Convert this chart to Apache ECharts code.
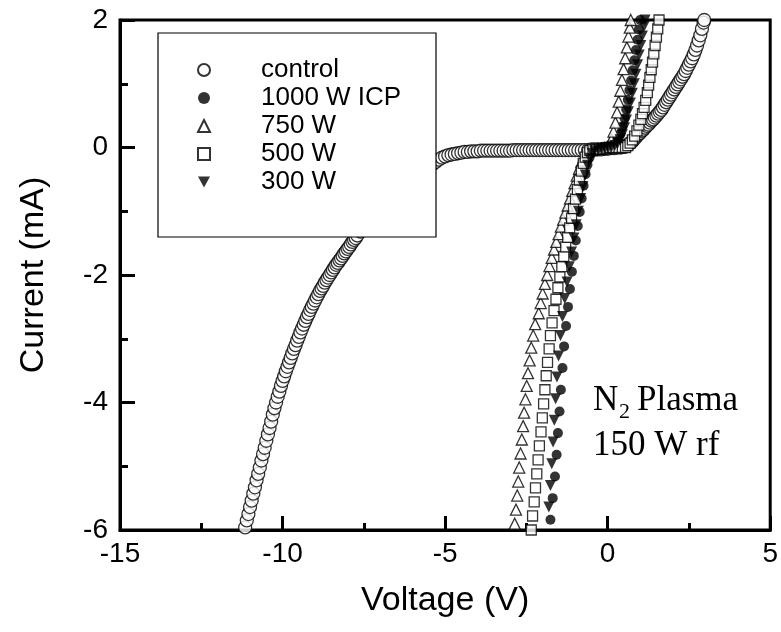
<!DOCTYPE html>
<html><head><meta charset="utf-8">
<script src="https://cdn.jsdelivr.net/npm/echarts@6/dist/echarts.min.js"></script>
<style>html,body{margin:0;padding:0;background:#fff}#c{width:781px;height:632px}</style>
</head><body><div id="c"></div>
<script>
const seriesNames = ['control', '1000 W ICP', '750 W', '500 W', '300 W'];
const xRange = [-15, 5, 5];
const yRange = [-6, 2, 2];

const control = [
[-11.20,-6.06],[-11.15,-5.96],[-11.10,-5.85],[-11.05,-5.75],[-11.00,-5.64],[-10.95,-5.54],[-10.90,-5.43],[-10.85,-5.33],[-10.80,-5.22],[-10.75,-5.12],
[-10.70,-5.02],[-10.65,-4.91],[-10.60,-4.81],[-10.55,-4.71],[-10.50,-4.60],[-10.45,-4.50],[-10.40,-4.40],[-10.35,-4.30],[-10.30,-4.19],[-10.25,-4.09],
[-10.20,-4.00],[-10.15,-3.91],[-10.10,-3.83],[-10.05,-3.74],[-10.00,-3.66],[-9.95,-3.59],[-9.90,-3.51],[-9.85,-3.44],[-9.80,-3.37],[-9.75,-3.30],
[-9.70,-3.23],[-9.65,-3.16],[-9.60,-3.10],[-9.55,-3.03],[-9.50,-2.97],[-9.45,-2.90],[-9.40,-2.84],[-9.35,-2.78],[-9.30,-2.72],[-9.25,-2.66],[-9.20,-2.61],[-9.15,-2.55],
[-9.10,-2.50],[-9.05,-2.45],[-9.00,-2.40],[-8.95,-2.35],[-8.90,-2.30],[-8.85,-2.25],[-8.80,-2.21],[-8.75,-2.17],[-8.70,-2.12],[-8.65,-2.08],[-8.60,-2.04],[-8.55,-2.00],[-8.50,-1.96],[-8.45,-1.92],[-8.40,-1.88],
[-8.35,-1.84],[-8.30,-1.81],[-8.25,-1.77],[-8.20,-1.74],[-8.15,-1.70],[-8.10,-1.66],[-8.05,-1.63],[-8.00,-1.59],[-7.95,-1.56],[-7.90,-1.52],[-7.85,-1.48],[-7.80,-1.45],[-7.75,-1.42],[-7.70,-1.38],
[-7.6,-1.32],[-7.5,-1.26],[-7.4,-1.20],[-7.3,-1.14],[-7.2,-1.08],[-7.1,-1.02],[-7.0,-0.97],[-6.9,-0.92],[-6.8,-0.87],[-6.7,-0.82],[-6.6,-0.77],[-6.5,-0.72],[-6.4,-0.68],[-6.3,-0.63],[-6.2,-0.59],[-6.1,-0.55],[-6.0,-0.51],[-5.9,-0.47],[-5.8,-0.43],[-5.7,-0.39],[-5.6,-0.35],[-5.5,-0.31],[-5.4,-0.27],[-5.3,-0.23],
[-5.2,-0.19],[-5.1,-0.16],[-5.0,-0.14],[-4.9,-0.12],[-4.8,-0.11],[-4.7,-0.10],[-4.6,-0.09],[-4.5,-0.08],[-4.4,-0.07],[-4.3,-0.07],[-4.2,-0.06],[-4.1,-0.06],[-4.0,-0.06],[-3.9,-0.05],[-3.8,-0.05],[-3.7,-0.05],[-3.6,-0.05],[-3.5,-0.05],[-3.4,-0.05],[-3.3,-0.05],[-3.2,-0.05],[-3.1,-0.05],[-3.0,-0.05],
[-2.9,-0.04],[-2.8,-0.04],[-2.7,-0.04],[-2.6,-0.04],[-2.5,-0.04],[-2.4,-0.04],[-2.3,-0.04],[-2.2,-0.04],[-2.1,-0.04],[-2.0,-0.04],[-1.9,-0.04],[-1.8,-0.04],[-1.7,-0.04],[-1.6,-0.04],[-1.5,-0.04],[-1.4,-0.04],[-1.3,-0.04],[-1.2,-0.04],[-1.1,-0.04],[-1.0,-0.04],
[-0.9,-0.04],[-0.8,-0.04],[-0.7,-0.04],[-0.6,-0.04],[-0.5,-0.03],[-0.4,-0.03],[-0.3,-0.03],[-0.2,-0.03],[-0.1,-0.02],[0.0,-0.02],[0.1,-0.01],[0.2,-0.01],[0.3,0.00],[0.4,0.00],
[0.50,0.01],[0.55,0.02],[0.60,0.03],[0.65,0.05],[0.70,0.07],[0.75,0.09],[0.80,0.12],[0.85,0.15],[0.90,0.18],[0.95,0.21],[1.00,0.23],[1.05,0.26],[1.10,0.28],[1.15,0.31],[1.20,0.34],[1.25,0.36],[1.30,0.39],[1.35,0.42],[1.40,0.44],[1.45,0.47],
[1.50,0.50],[1.55,0.53],[1.60,0.56],[1.65,0.59],[1.70,0.63],[1.75,0.67],[1.80,0.71],[1.85,0.75],[1.90,0.79],[1.95,0.83],[2.00,0.87],[2.05,0.91],[2.10,0.95],[2.15,0.99],[2.20,1.03],[2.25,1.07],[2.30,1.11],[2.35,1.15],[2.40,1.20],[2.45,1.25],
[2.50,1.30],[2.55,1.35],[2.60,1.40],[2.65,1.46],[2.70,1.53],[2.75,1.60],[2.80,1.68],[2.85,1.76],[2.90,1.86],[2.95,1.96],[2.97,2.00]
];

const icp1000 = [
[-1.76,-5.84],[-1.69,-5.50],[-1.62,-5.16],[-1.57,-4.82],[-1.53,-4.48],[-1.48,-4.14],[-1.44,-3.80],[-1.39,-3.46],[-1.34,-3.12],[-1.28,-2.80],[-1.22,-2.50],[-1.16,-2.22],[-1.10,-1.95],[-1.04,-1.70],[-0.98,-1.46],[-0.92,-1.23],[-0.86,-1.01],[-0.80,-0.80],[-0.74,-0.60],[-0.68,-0.42],[-0.62,-0.27],[-0.56,-0.16],[-0.50,-0.09],[-0.42,-0.05],[-0.32,-0.03],[-0.22,-0.02],[-0.12,-0.01],[-0.02,0.00],
[0.08,0.01],[0.18,0.03],[0.26,0.07],[0.33,0.13],[0.40,0.22],[0.46,0.33],[0.52,0.46],[0.57,0.60],[0.62,0.75],[0.67,0.90],[0.72,1.05],[0.77,1.21],[0.82,1.37],[0.87,1.53],[0.92,1.69],[0.96,1.85],[1.00,2.00]
];

const w750 = [
[-2.86,-5.90],[-2.82,-5.68],[-2.78,-5.46],[-2.75,-5.24],[-2.72,-5.02],[-2.68,-4.80],[-2.64,-4.58],[-2.60,-4.37],[-2.57,-4.16],[-2.53,-3.95],[-2.49,-3.74],[-2.45,-3.54],[-2.40,-3.34],[-2.35,-3.14],[-2.29,-2.95],[-2.23,-2.77],[-2.12,-2.60],
[-2.06,-2.44],[-2.00,-2.29],[-1.93,-2.14],[-1.86,-2.00],[-1.79,-1.86],[-1.72,-1.73],[-1.65,-1.60],[-1.58,-1.48],[-1.51,-1.36],[-1.44,-1.24],[-1.37,-1.13],[-1.30,-1.02],[-1.23,-0.91],[-1.16,-0.80],[-1.09,-0.68],[-1.02,-0.56],[-0.95,-0.44],[-0.88,-0.33],[-0.81,-0.23],[-0.74,-0.15],[-0.67,-0.09],[-0.60,-0.06],[-0.50,-0.04],[-0.40,-0.03],[-0.30,-0.02],[-0.20,-0.02],[-0.10,-0.01],
[0.00,0.00],[0.06,0.05],[0.12,0.13],[0.18,0.25],[0.24,0.39],[0.29,0.55],[0.34,0.72],[0.39,0.89],[0.44,1.06],[0.49,1.23],[0.54,1.40],[0.59,1.57],[0.64,1.74],[0.68,1.88],[0.71,2.00]
];

const w500 = [
[-2.35,-6.00],[-2.31,-5.78],[-2.26,-5.56],[-2.22,-5.34],[-2.18,-5.12],[-2.14,-4.90],[-2.10,-4.68],[-2.05,-4.46],[-2.01,-4.24],[-1.97,-4.02],[-1.93,-3.80],[-1.89,-3.58],[-1.85,-3.37],[-1.80,-3.16],[-1.76,-2.95],[-1.71,-2.75],[-1.65,-2.56],[-1.59,-2.38],[-1.53,-2.20],[-1.47,-2.03],
[-1.41,-1.87],[-1.35,-1.71],[-1.29,-1.56],[-1.23,-1.41],[-1.17,-1.26],[-1.11,-1.11],[-1.05,-0.96],[-0.99,-0.81],[-0.93,-0.66],[-0.87,-0.51],[-0.81,-0.37],[-0.75,-0.25],[-0.69,-0.15],[-0.62,-0.08],[-0.55,-0.05],[-0.45,-0.03],[-0.35,-0.03],[-0.25,-0.02],[-0.15,-0.02],[-0.05,-0.01],
[0.05,0.00],[0.15,0.00],[0.25,0.00],[0.35,0.00],[0.45,0.00],[0.55,0.00],[0.62,0.03],[0.69,0.07],[0.76,0.12],[0.83,0.18],[0.90,0.26],[0.96,0.35],[1.02,0.44],[1.07,0.53],[1.12,0.63],[1.17,0.74],[1.22,0.86],[1.26,0.98],[1.30,1.10],[1.34,1.22],[1.38,1.34],[1.42,1.47],[1.46,1.60],[1.50,1.73],[1.54,1.86],[1.58,2.00]
];

const w300 = [
[-1.81,-5.64],[-1.76,-5.30],[-1.72,-4.96],[-1.68,-4.62],[-1.64,-4.28],[-1.60,-3.94],[-1.56,-3.60],[-1.51,-3.27],[-1.45,-2.95],[-1.39,-2.65],[-1.32,-2.37],[-1.25,-2.11],[-1.18,-1.87],[-1.11,-1.64],[-1.04,-1.42],[-0.97,-1.21],[-0.90,-1.00],[-0.83,-0.80],[-0.76,-0.61],[-0.69,-0.43],[-0.62,-0.28],[-0.55,-0.17],[-0.48,-0.09],[-0.40,-0.05],
[-0.28,-0.03],[-0.18,-0.02],[-0.08,-0.01],[0.02,0.00],[0.12,0.01],[0.22,0.03],[0.30,0.06],[0.38,0.12],[0.45,0.20],[0.52,0.31],[0.58,0.43],[0.64,0.56],[0.70,0.70],[0.76,0.85],[0.82,1.00],[0.87,1.15],[0.92,1.30],[0.97,1.45],[1.02,1.60],[1.07,1.75],[1.12,1.90],[1.15,2.00]
];

const SANS = '"Liberation Sans", Arial, Helvetica, sans-serif';
const SERIF = '"Liberation Serif", "Times New Roman", serif';
const INV_TRIANGLE = 'path://M0,0L10,0L5,9Z';
const chart = echarts.init(document.getElementById('c'), null, {renderer: 'canvas'});

const openStyle = {color: '#fff', borderColor: '#000', borderWidth: 1.3};
const fillStyle = {color: '#000', borderColor: '#000', borderWidth: 0};

function sc(name, data, symbol, size, style) {
  return {
    type: 'scatter', name: name, data: data, symbol: symbol, symbolSize: size,
    itemStyle: style, silent: true, animation: false,
    emphasis: {disabled: true}, z: 2
  };
}

chart.setOption({
  backgroundColor: '#fff',
  animation: false,
  grid: {left: 120, right: 8, top: 20, bottom: 102, containLabel: false,
         show: true, borderColor: '#000', borderWidth: 3, backgroundColor: 'transparent'},
  xAxis: {
    type: 'value', min: xRange[0], max: xRange[1], interval: xRange[2],
    name: 'Voltage (V)', nameLocation: 'middle', nameGap: 54,
    nameTextStyle: {color: '#000', fontSize: 34, fontFamily: SANS},
    axisLine: {show: true, onZero: false, lineStyle: {color: '#000', width: 3}},
    axisTick: {show: true, inside: true, length: 14, lineStyle: {color: '#000', width: 3}},
    minorTick: {show: true, splitNumber: 2, length: 7, lineStyle: {color: '#000', width: 3}},
    splitLine: {show: false}, minorSplitLine: {show: false},
    axisLabel: {color: '#000', fontSize: 28, fontFamily: SANS, margin: 10, showMinLabel: true, showMaxLabel: true}
  },
  yAxis: {
    type: 'value', min: yRange[0], max: yRange[1], interval: yRange[2],
    name: 'Current (mA)', nameLocation: 'middle', nameGap: 69, nameRotate: 90,
    nameTextStyle: {color: '#000', fontSize: 34, fontFamily: SANS},
    axisLine: {show: true, onZero: false, lineStyle: {color: '#000', width: 3}},
    axisTick: {show: true, inside: true, length: 15, lineStyle: {color: '#000', width: 3}},
    minorTick: {show: true, splitNumber: 2, length: 8, lineStyle: {color: '#000', width: 3}},
    splitLine: {show: false}, minorSplitLine: {show: false},
    axisLabel: {color: '#000', fontSize: 28, fontFamily: SANS, margin: 12, showMinLabel: true, showMaxLabel: true}
  },
  legend: {
    show: true, orient: 'vertical', left: 197, top: 56, padding: 0, itemGap: 0,
    itemWidth: 12, itemHeight: 12, selectedMode: false, z: 5,
    data: seriesNames,
    textStyle: {color: '#000', fontSize: 26, fontFamily: SANS, lineHeight: 28, padding: [0, 0, 0, 46]}
  },
  graphic: [
    {type: 'rect', z: 3, silent: true, shape: {x: 158, y: 33, width: 278, height: 204},
     style: {fill: '#fff', stroke: '#000', lineWidth: 1.2}},
    {type: 'text', z: 5, silent: true, style: {text: 'N', x: 593, y: 401, font: '35px ' + SERIF, fill: '#000', verticalAlign: 'middle'}},
    {type: 'text', z: 5, silent: true, style: {text: '2', x: 619, y: 412, font: '22px ' + SERIF, fill: '#000', verticalAlign: 'middle'}},
    {type: 'text', z: 5, silent: true, style: {text: 'Plasma', x: 637, y: 401, font: '35px ' + SERIF, fill: '#000', verticalAlign: 'middle'}},
    {type: 'text', z: 5, silent: true, style: {text: '150 W rf', x: 593, y: 446, font: '35px ' + SERIF, fill: '#000', verticalAlign: 'middle'}}
  ],
  series: [
    sc(seriesNames[0], control, 'circle', 13, openStyle),
    sc(seriesNames[1], icp1000, 'circle', 10, fillStyle),
    sc(seriesNames[2], w750, 'triangle', 11, openStyle),
    sc(seriesNames[3], w500, 'rect', 10, openStyle),
    sc(seriesNames[4], w300, INV_TRIANGLE, 11, fillStyle)
  ]
});
</script>
</body></html>
